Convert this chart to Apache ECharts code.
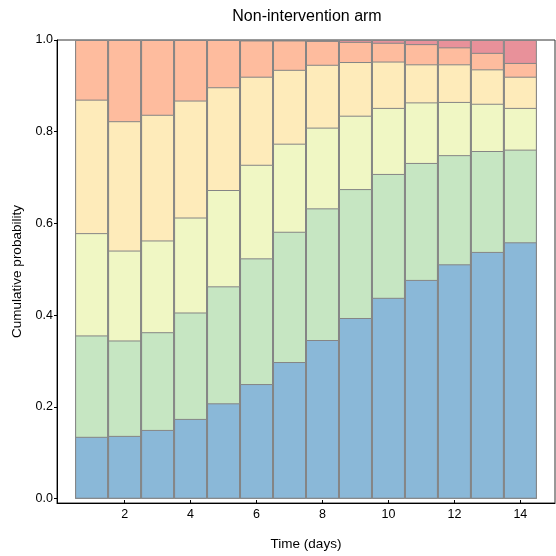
<!DOCTYPE html>
<html>
<head>
<meta charset="utf-8">
<style>
  html, body { margin: 0; padding: 0; background: #fff; }
  #chart { width: 556px; height: 556px; }
</style>
<script src="https://cdn.jsdelivr.net/npm/echarts@6/dist/echarts.min.js"></script>
</head>
<body>
<div id="chart"></div>
<script>
// Days on the x axis
const days = [1, 2, 3, 4, 5, 6, 7, 8, 9, 10, 11, 12, 13, 14];

// Cumulative probability at the top of each outcome band, per day
const cumLevel1 = [0.135, 0.137, 0.150, 0.174, 0.208, 0.250, 0.298, 0.346, 0.394, 0.438, 0.477, 0.511, 0.538, 0.559];
const cumLevel2 = [0.356, 0.345, 0.363, 0.406, 0.463, 0.524, 0.582, 0.633, 0.675, 0.708, 0.732, 0.749, 0.758, 0.761];
const cumLevel3 = [0.579, 0.541, 0.563, 0.613, 0.673, 0.728, 0.774, 0.809, 0.835, 0.852, 0.864, 0.865, 0.861, 0.852];
const cumLevel4 = [0.870, 0.823, 0.837, 0.868, 0.897, 0.920, 0.935, 0.946, 0.952, 0.953, 0.947, 0.947, 0.936, 0.920];
const cumLevel5 = [1.000, 1.000, 1.000, 1.000, 1.000, 0.999, 0.999, 0.998, 0.996, 0.994, 0.991, 0.984, 0.972, 0.950];
const cumLevel6 = [1.000, 1.000, 1.000, 1.000, 1.000, 1.000, 1.000, 1.000, 1.000, 1.000, 1.000, 1.000, 1.000, 1.000];

// Tick positions
const xTicks = [2, 4, 6, 8, 10, 12, 14];
const yTicks = [0, 0.2, 0.4, 0.6, 0.8, 1.0];

const levels = [cumLevel1, cumLevel2, cumLevel3, cumLevel4, cumLevel5, cumLevel6];
const bandColors = ['#8ab8d8', '#c6e6c2', '#f0f7c4', '#feebba', '#febc9e', '#e8919a'];

const FONT = "'Liberation Sans', Arial, sans-serif";

// Each cumulative level is a full-height bar from zero; the bars overlap,
// highest level at the back, so every visible band spans two consecutive levels.
const series = levels.map((lvl, k) => ({
  type: 'bar',
  barWidth: '100%',
  barGap: '-100%',
  data: days.map((d, i) => [d, lvl[i]]),
  itemStyle: { color: bandColors[k], borderColor: '#858585', borderWidth: 1 },
  emphasis: { disabled: true },
  animation: false
})).reverse();

const chart = echarts.init(document.getElementById('chart'), null, { renderer: 'canvas' });
chart.setOption({
  animation: false,
  title: {
    text: 'Non-intervention arm',
    left: 302,
    top: 4,
    textAlign: 'center',
    textStyle: { fontFamily: FONT, fontSize: 16, fontWeight: 'normal', color: '#000' }
  },
  grid: {
    left: 57, right: 1, top: 40, bottom: 50,
    show: true, borderColor: '#333', borderWidth: 1, backgroundColor: 'transparent'
  },
  xAxis: {
    type: 'value',
    min: -0.05,
    max: 15.05,
    name: 'Time (days)',
    nameLocation: 'middle',
    nameGap: 34,
    nameTextStyle: { fontFamily: FONT, fontSize: 13.5, color: '#000' },
    axisLine: { show: true, onZero: false, lineStyle: { color: '#000', width: 1 } },
    axisTick: { show: true, inside: true, length: 3, customValues: xTicks, lineStyle: { color: '#000' } },
    axisLabel: { customValues: xTicks, margin: 5, fontFamily: FONT, fontSize: 12.5, color: '#000' },
    splitLine: { show: false }
  },
  yAxis: {
    type: 'value',
    min: -0.0093,
    max: 1.0,
    name: 'Cumulative probability',
    nameLocation: 'middle',
    nameGap: 33,
    nameTextStyle: { fontFamily: FONT, fontSize: 13.5, color: '#000' },
    axisLine: { show: true, onZero: false, lineStyle: { color: '#000', width: 1 } },
    axisTick: { show: true, length: 3, customValues: yTicks, lineStyle: { color: '#000' } },
    axisLabel: {
      customValues: yTicks, margin: 4, fontFamily: FONT, fontSize: 12.5, color: '#000',
      formatter: v => Number(v).toFixed(1)
    },
    splitLine: { show: false }
  },
  series: series
});
</script>
</body>
</html>
